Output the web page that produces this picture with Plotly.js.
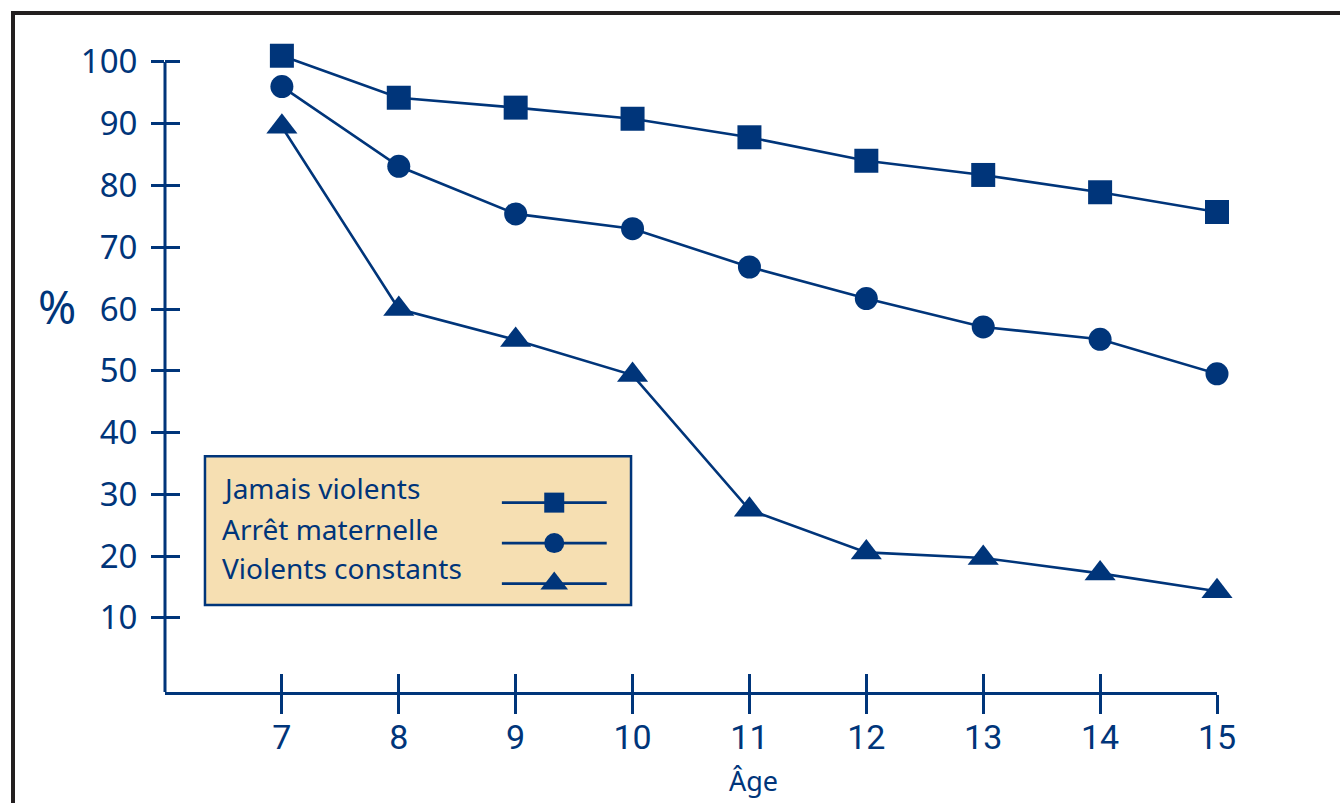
<!DOCTYPE html>
<html>
<head>
<meta charset="utf-8">
<script src="https://cdn.plot.ly/plotly-3.0.1.min.js"></script>
<style>
  html, body { margin: 0; padding: 0; background: #ffffff; }
  #wrap { position: relative; width: 1340px; height: 803px; overflow: hidden; }
  #chart { position: absolute; left: 0; top: 0; width: 1340px; height: 803px; }
  #frame { position: absolute; left: 11px; top: 11px; width: 2000px; height: 2000px;
           border-top: 4px solid #231f20; border-left: 4px solid #231f20; pointer-events: none; }
</style>
</head>
<body>
<div id="wrap">
  <div id="chart"></div>
  <div id="frame"></div>
</div>
<script>
// ---- data ----
const ages = [7, 8, 9, 10, 11, 12, 13, 14, 15];
const jamaisViolents   = [101.0, 94.2, 92.6, 90.8, 87.8, 84.0, 81.7, 78.9, 75.7];
const arretMaternelle  = [96.0, 83.1, 75.4, 73.0, 66.8, 61.7, 57.1, 55.1, 49.5];
const violentsConstants = [89.5, 60.0, 55.0, 49.3, 27.5, 20.6, 19.7, 17.2, 14.3];
const seriesNames = ["Jamais violents", "Arrêt maternelle", "Violents constants"];
const xTickLabels = ["7", "8", "9", "10", "11", "12", "13", "14", "15"];
const yTickVals = [10, 20, 30, 40, 50, 60, 70, 80, 90, 100];
const yTickLabels = ["10", "20", "30", "40", "50", "60", "70", "80", "90", "100"];
const yAxisLabel = "%";
const xAxisLabel = "Âge";

// ---- style ----
const NAVY = "#00357a";
const FONT = "'Noto Sans', 'Open Sans', sans-serif";
const symbols = ["square", "circle", "triangle-up"];
const sizes = [24, 23, 27];
const legendSizes = [20, 20, 24];
const allSeries = [jamaisViolents, arretMaternelle, violentsConstants];

const traces = allSeries.map((vals, i) => ({
  type: "scatter",
  mode: "lines+markers",
  x: ages,
  y: vals,
  name: seriesNames[i],
  cliponaxis: false,
  showlegend: false,
  line: { color: NAVY, width: 2.6 },
  marker: { symbol: symbols[i], size: sizes[i], color: NAVY, opacity: 1, line: { width: 0 } }
}));

// empty trace so that the overlay axes (inner half of ticks) are drawn
traces.push({ type: "scatter", x: [], y: [], xaxis: "x2", yaxis: "y2", showlegend: false, hoverinfo: "skip" });

// legend samples (drawn on their own small axes inside the legend box)
const legendRows = [2, 1, 0];
allSeries.forEach((vals, i) => {
  traces.push({
    type: "scatter", mode: "lines",
    x: [0, 2], y: [legendRows[i], legendRows[i]],
    xaxis: "x3", yaxis: "y3",
    showlegend: false, hoverinfo: "skip", cliponaxis: false,
    line: { color: NAVY, width: 2.6 }
  });
  traces.push({
    type: "scatter", mode: "markers",
    x: [1], y: [legendRows[i]],
    xaxis: "x3", yaxis: "y3",
    showlegend: false, hoverinfo: "skip", cliponaxis: false,
    marker: { symbol: symbols[i], size: legendSizes[i], color: NAVY, opacity: 1, line: { width: 0 } }
  });
});

const X_RANGE = [6, 15];
const Y_RANGE = [-2, 102.9];

const layout = {
  width: 1340, height: 803,
  margin: { l: 165, r: 123, t: 44, b: 111 },
  paper_bgcolor: "#ffffff",
  plot_bgcolor: "rgba(0,0,0,0)",
  showlegend: false,
  hovermode: false,
  font: { family: FONT, color: NAVY },
  xaxis: {
    range: X_RANGE, showgrid: false, zeroline: false,
    showline: true, linecolor: NAVY, linewidth: 3,
    ticks: "outside", ticklen: 19, tickwidth: 3, tickcolor: NAVY,
    tickmode: "array", tickvals: ages, ticktext: xTickLabels,
    tickfont: { family: "Roboto, 'Noto Sans', sans-serif", size: 34, color: NAVY },
    ticklabelstandoff: -6
  },
  yaxis: {
    range: Y_RANGE, showgrid: false, zeroline: false,
    showline: false,
    ticks: "outside", ticklen: 13, tickwidth: 3, tickcolor: NAVY,
    tickmode: "array", tickvals: yTickVals, ticktext: yTickLabels,
    tickfont: { family: FONT, size: 33, color: NAVY },
    ticklabelstandoff: 7
  },
  xaxis2: {
    overlaying: "x", anchor: "y2", side: "bottom", range: X_RANGE,
    showgrid: false, zeroline: false, showline: false, showticklabels: false,
    ticks: "inside", ticklen: 18, tickwidth: 3, tickcolor: NAVY,
    tickmode: "array", tickvals: ages
  },
  yaxis2: {
    overlaying: "y", anchor: "x2", side: "left", range: Y_RANGE,
    showgrid: false, zeroline: false, showline: false, showticklabels: false,
    ticks: "inside", ticklen: 15, tickwidth: 3, tickcolor: NAVY,
    tickmode: "array", tickvals: yTickVals
  },
  xaxis3: {
    domain: [0.320, 0.420], anchor: "y3", range: [0, 2],
    visible: false, fixedrange: true
  },
  yaxis3: {
    domain: [0.136, 0.3235], anchor: "x3", range: [-0.5, 2.5],
    visible: false, fixedrange: true
  },
  shapes: [
    // y-axis line, from the bottom of the frame up to the 100 tick
    { type: "line", xref: "paper", yref: "y", x0: 0, x1: 0, y0: Y_RANGE[0], y1: yTickVals[yTickVals.length - 1],
      line: { color: NAVY, width: 3 }, layer: "above" },
    // legend box
    { type: "rect", xref: "paper", yref: "paper",
      x0: 0.038, x1: 0.443, y0: 0.1343, y1: 0.364,
      fillcolor: "#f6dfb2", line: { color: NAVY, width: 2.5 }, layer: "below" }
  ],
  annotations: [
    { text: yAxisLabel, xref: "paper", yref: "paper", x: -0.103, y: 0.595,
      xanchor: "center", yanchor: "middle", showarrow: false,
      font: { family: FONT, size: 46, color: NAVY } },
    { text: xAxisLabel, xref: "paper", yref: "paper", x: 0.559, y: -0.137,
      xanchor: "center", yanchor: "middle", showarrow: false,
      font: { family: FONT, size: 27, color: NAVY } }
  ].concat(seriesNames.map((n, i) => ({
    text: n, xref: "paper", yref: "paper", x: 0.0523,
    y: [0.3148, 0.2515, 0.1913][i],
    xanchor: "left", yanchor: "middle", showarrow: false,
    font: { family: FONT, size: 28, color: NAVY }
  })))
};

Plotly.newPlot("chart", traces, layout, { displayModeBar: false, staticPlot: true });
</script>
</body>
</html>
